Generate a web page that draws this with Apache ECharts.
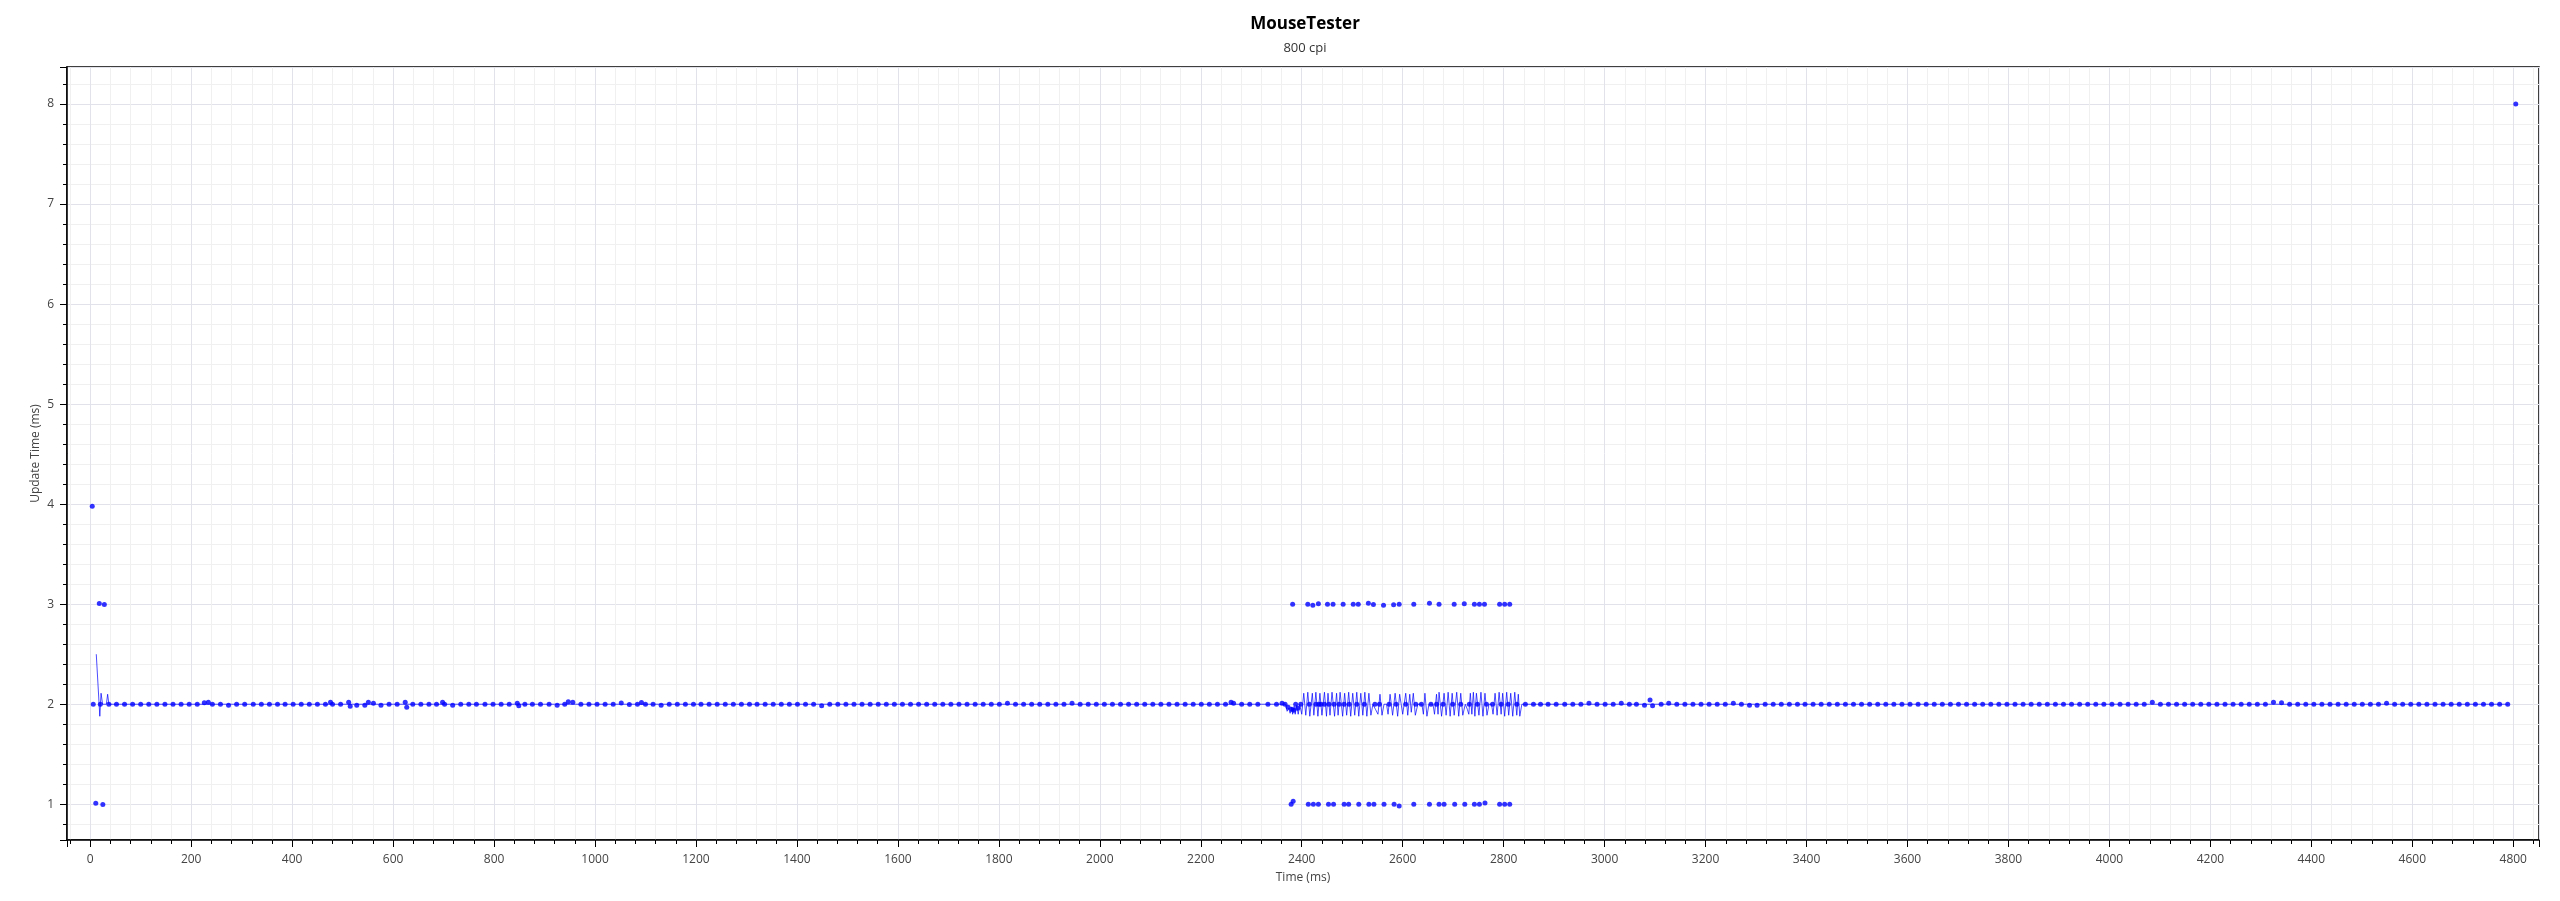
<!DOCTYPE html>
<html>
<head>
<meta charset="utf-8">
<script src="https://cdn.jsdelivr.net/npm/echarts@6/dist/echarts.min.js"></script>
<style>
html,body{margin:0;padding:0;background:#fff;}
#chart{width:2560px;height:901px;}
</style>
</head>
<body>
<div id="chart"></div>
<script>
// ---- data (time ms, update time ms) ----
const titleText = 'MouseTester';
const subtitleText = '800 cpi';
const xName = 'Time (ms)';
const yName = 'Update Time (ms)';

// main band of points around 2 ms
const band = [
[6,2],[20,2],[37,2],[52,2],[68,2],[84,2],[100,2],[116,2],[132,2],[148,2],[164,2],[180,2],[196,2],[212,2],[226,2.015],[234,2.02],[242,2],[258,2],[274,1.99],[290,2],[306,2],
[323,2],[339,2],[355,2],[371,2],[386,2],[402,2],[418,2],[434,2],[450,2],[466,2],[476,2.02],[480,2],[496,2],[512,2.02],[515,1.98],[528,1.99],[544,1.99],[551,2.02],[561,2.01],[576,1.99],[592,2],[608,2],[624,2.02],[627,1.97],[639,2],[655,2],[671,2],[686,2],[698,2.02],[702,2],[718,1.99],[734,2],[750,2],[765,2],[782,2],[798,2],[814,2],[830,2],[846,2.01],[849,1.985],[861,2],[876,2],[892,2],[909,2],[925,1.99],[940,2],[947,2.025],[956,2.02],[972,2],[988,2],[1004,2],[1020,2],[1036,2],[1052,2.013],[1068,1.997],[1084,2],[1092,2.017],[1100,2],[1115,2],[1131,1.99],[1147,2],[1163,2],[1179,2],[1195,2],[1210,2],[1226,2],[1242,2],[1258,2],[1274,2],[1290,2],[1306,2],
[1321,2],[1337,2],[1353,2],[1369,2],[1385,2],[1401,2],[1417,2],[1433,2],[1449,1.985],[1465,2],[1481,2],[1497,2],[1513,2],[1529,2],[1545,2],[1561,2],[1577,2],[1593,2],[1609,2],[1625,2],[1641,2],[1657,2],[1673,2],[1689,2],[1705,2],[1721,2],[1737,2],[1753,2],[1769,2],[1785,2],[1801,2],[1817,2.01],[1833,2],[1849,2],[1865,2],[1881,2],[1897,2],[1913,2],[1929,2],[1945,2.01],[1961,2],[1977,2],[1993,2],[2009,2],[2025,2],[2041,2],[2057,2],[2073,2],[2089,2],[2105,2],[2121,2],[2137,2],[2153,2],[2169,2],[2185,2],[2201,2],[2217,2],[2233,2],[2249,2],[2260,2.02],[2265,2.01],[2281,2],[2297,2],[2313,2],[2333,2],[2350,2],[2361,2.01],[2367,2],[2373,1.97],
[2380,1.95],[2384,1.94],[2388,2],[2392,1.96],[2398,2],[2415,2],[2428,2],[2434,2],[2438,2],[2445,2],[2454,2],[2464,2],[2474,2],[2484,2],[2494,2],[2509,2],[2524,2],[2545,2],[2554,2],[2573,2],[2587,2],[2606,2],[2626,2],[2637,2],[2656,2],[2667,2],[2680,2],[2699,2],[2715,2],[2732,2],[2748,2],[2766,2],[2778,2],[2795,2],[2809,2],[2826,2],[2843,2],[2859,2],[2873,2],[2888,2],[2904,2],
[2921,2],[2937,2],[2953,2],[2969,2.01],[2985,2],[3001,2],[3017,2],[3033,2.01],[3049,2],[3063,2],[3079,1.99],[3090,2.043],[3095,1.986],[3112,2],[3127,2.01],[3143,2],[3159,2],[3175,2],[3191,2],[3207,2],[3223,2],[3239,2],[3255,2.01],[3271,2],[3287,1.99],[3302,1.99],[3318,2],[3334,2],[3350,2],[3366,2],[3382,2],
[3397,2],[3413,2],[3429,2],[3445,2],[3461,2],[3477,2],[3493,2],[3509,2],[3525,2],[3541,2],[3557,2],[3573,2],[3589,2],[3605,2],[3621,2],[3637,2],[3653,2],[3669,2],[3685,2],[3701,2],[3717,2],[3733,2],[3749,2],[3765,2],[3781,2],[3797,2],[3813,2],[3829,2],[3845,2],[3861,2],[3877,2],[3893,2],[3909,2],[3925,2],[3941,2],[3957,2],[3973,2],[3989,2],[4005,2],[4021,2],[4037,2],[4053,2],[4069,2],[4085,2.02],[4101,2],[4117,2],[4133,2],[4149,2],[4165,2],[4181,2],[4197,2],[4213,2],[4229,2],[4245,2],[4261,2],[4277,2],[4293,2],[4309,2],[4325,2.02],[4341,2.015],[4357,2],[4373,2],[4389,2],[4405,2],[4421,2],[4437,2],[4453,2],[4469,2],[4485,2],[4501,2],[4517,2],[4533,2],[4549,2.01],[4565,2],[4581,2],[4597,2],[4613,2],[4629,2],[4645,2],[4661,2],[4677,2],[4693,2],[4709,2],[4725,2],[4741,2],[4757,2],[4773,2],[4789,2]
];

// points around 3 ms
const high = [
[18,3.006],[28,2.996],
[2382,3],[2412,3],[2422,2.99],[2433,3.005],[2451,3],[2462,3],[2482,3],[2502,3],[2512,3],[2532,3.01],[2542,2.997],[2562,2.99],[2582,2.995],[2593,3],[2622,3],[2653,3.01],[2672,3],[2702,3],[2722,3.005],[2742,3],[2752,3],[2762,3],[2792,3],[2802,3],[2812,3]
];

// points around 1 ms
const low = [
[11,1.01],[25,0.998],
[2379,1.0],[2383,1.03],[2413,1],[2423,1],[2433,1],[2453,1],[2463,1],[2484,1],[2493,1],[2513,1],[2533,1],[2543,1],[2563,1],[2583,1],[2593,0.983],[2622,1],[2653,1],[2672,1],[2682,1],[2703,1],[2723,1],[2742,1],[2752,1],[2763,1.013],[2792,1],[2802,1],[2812,1]
];

// isolated points
const outliers = [[4,3.98],[4805,8.0]];

// thin connecting trace
const trace = [
[12,2.5],[19,1.88],[21.5,2.11],[24.5,2.0],[32,2.0],[34.5,2.1],[37,2.0],
[2368,2.0],[2371,1.93],[2374,1.96],[2377,1.91],[2380,1.97],[2382,1.9],[2385,1.98],[2387,1.9],[2390,1.99],[2393,1.9],[2396,2.0],[2400,1.9],
[2404,2.11],[2408,1.89],[2412,2.12],[2416,1.88],[2421,2.11],[2424,1.89],[2428,2.12],[2432,1.88],[2436,2.11],[2440,1.89],[2445,2.12],[2449,1.88],[2452,2.11],[2456,1.89],[2460,2.12],[2465,1.88],[2469,2.11],[2472,1.89],[2476,2.12],[2481,1.88],[2485,2.11],[2489,1.89],[2493,2.12],[2497,1.88],[2501,2.11],[2505,1.89],[2509,2.12],[2513,1.88],[2517,2.11],[2521,1.89],[2525,2.12],[2529,1.88],[2533,2.11],[2537,1.89],[2541,2.0],[2546,1.95],[2551,1.9],[2555,2.1],[2559,1.89],[2563,2.0],[2568,2.0],[2571,1.9],[2575,2.1],[2580,1.89],[2585,2.11],[2590,1.88],[2594,2.1],[2600,1.9],[2606,2.11],[2610,1.89],[2614,2.1],[2617,1.92],[2621,2.11],[2625,1.89],[2630,2.0],[2638,2.0],[2641,1.9],[2644,2.11],[2648,1.88],[2652,2.0],[2660,2.0],[2663,1.9],[2667,2.1],[2670,1.9],[2672,2.12],[2677,1.88],[2682,2.11],[2686,1.89],[2690,2.12],[2694,1.88],[2698,2.11],[2702,1.89],[2707,2.12],[2711,1.88],[2715,2.11],[2719,1.89],[2724,2.0],[2728,1.95],[2731,1.9],[2734,2.11],[2737,1.9],[2740,2.12],[2743,1.88],[2746,2.11],[2751,1.89],[2755,2.12],[2759,1.88],[2763,2.11],[2767,1.89],[2771,2.0],[2776,2.0],[2779,1.9],[2783,2.11],[2787,1.89],[2791,2.12],[2795,1.9],[2798,2.11],[2802,1.88],[2806,2.12],[2810,1.89],[2814,2.11],[2818,1.88],[2822,2.12],[2826,1.89],[2829,2.1],[2832,1.88],[2836,2.0],
[4790,2.0]
];

// ---- chart ----
const FONT = '"Open Sans", "Noto Sans", sans-serif';
const chart = echarts.init(document.getElementById('chart'), null, {renderer: 'canvas'});

const tickLabel = {color: '#444', fontSize: 12, fontFamily: FONT, formatter: function (v) { return String(v); }};

chart.setOption({
  animation: false,
  backgroundColor: '#fff',
  title: {
    text: titleText,
    subtext: subtitleText,
    left: 1300,
    textAlign: 'center',
    top: 11,
    itemGap: 9,
    textStyle: {color: '#000', fontSize: 17, fontWeight: 'bold', fontFamily: FONT},
    subtextStyle: {color: '#333', fontSize: 13, fontFamily: FONT}
  },
  grid: {
    left: 67, right: 21, top: 67, bottom: 61,
    show: true, borderColor: '#000', borderWidth: 1.5,
    containLabel: false,
    outerBoundsMode: 'none'
  },
  xAxis: {
    type: 'value',
    min: -46, max: 4851,
    minInterval: 200, maxInterval: 200,
    name: xName,
    nameLocation: 'middle',
    nameGap: 32,
    nameMoveOverlap: false,
    nameTextStyle: {color: '#444', fontSize: 12, fontFamily: FONT},
    axisLine: {show: true, onZero: false, lineStyle: {color: '#000', width: 1.5}},
    axisTick: {show: true, inside: false, length: 7, lineStyle: {color: '#000', width: 1}},
    minorTick: {show: true, splitNumber: 5, length: 4, lineStyle: {color: '#000', width: 1}},
    axisLabel: Object.assign({margin: 14, showMinLabel: false, showMaxLabel: false}, tickLabel),
    splitLine: {show: true, lineStyle: {color: '#e2e2ea', width: 1}},
    minorSplitLine: {show: true, lineStyle: {color: '#f0f0f0', width: 1}}
  },
  yAxis: {
    type: 'value',
    min: 0.643, max: 8.37,
    minInterval: 1, maxInterval: 1,
    name: yName,
    nameLocation: 'middle',
    nameGap: 25,
    nameMoveOverlap: false,
    nameTextStyle: {color: '#444', fontSize: 12, fontFamily: FONT},
    axisLine: {show: true, onZero: false, lineStyle: {color: '#000', width: 1.5}},
    axisTick: {show: true, inside: false, length: 7, lineStyle: {color: '#000', width: 1}},
    minorTick: {show: true, splitNumber: 5, length: 4, lineStyle: {color: '#000', width: 1}},
    axisLabel: Object.assign({margin: 13, showMinLabel: false, showMaxLabel: false}, tickLabel),
    splitLine: {show: true, lineStyle: {color: '#e2e2ea', width: 1}},
    minorSplitLine: {show: true, lineStyle: {color: '#f0f0f0', width: 1}}
  },
  series: [
    {
      type: 'line',
      data: trace,
      showSymbol: false,
      symbol: 'none',
      lineStyle: {color: 'rgba(0,0,255,0.7)', width: 1},
      z: 2
    },
    {
      type: 'scatter',
      data: band.concat(high, low, outliers),
      symbol: 'circle',
      symbolSize: 5,
      itemStyle: {color: '#0000ff'},
      z: 3
    }
  ]
});
</script>
</body>
</html>
